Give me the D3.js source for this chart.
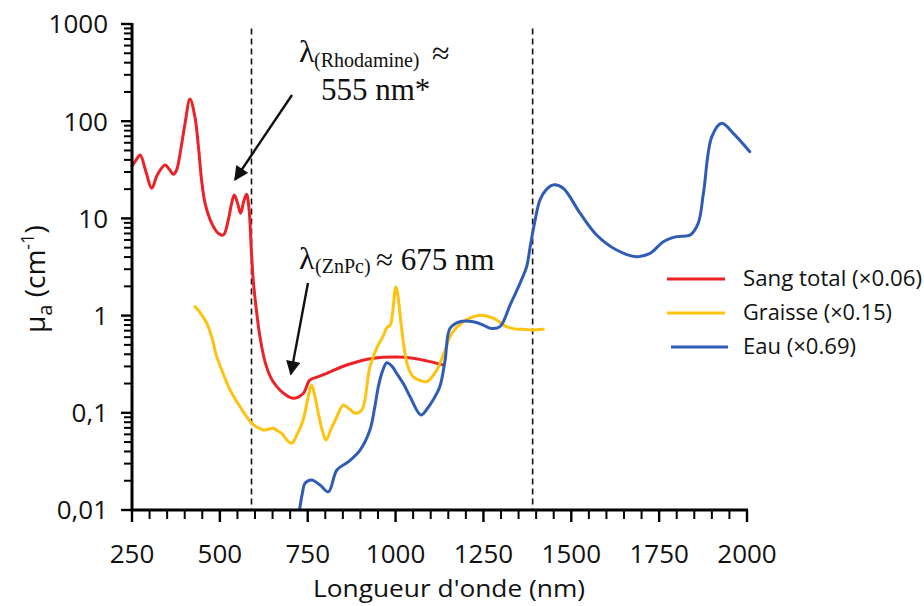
<!DOCTYPE html>
<html>
<head>
<meta charset="utf-8">
<script src="https://cdn.jsdelivr.net/npm/d3@7"></script>
<style>
  html, body { margin: 0; padding: 0; background: #fff; }
  #wrap { position: relative; width: 924px; height: 606px; }
  #wrap svg { position: absolute; left: 0; top: 0; display: block; }
</style>
</head>
<body>
<div id="wrap">
<svg id="chart" width="924" height="606"></svg>
<svg id="ticks" width="924" height="606"></svg>
</div>
<script>
// ---------- DATA ----------
const bloodW = [250,262,273,290,306,322,344,356,368,377,387,401,415,429,439,448,458,477,496,510,524,533,541,550,559,568,576,583,590,595,605,614,630,645,662,685,709,737,756,780,804,861,937,1003,1050,1098,1136];
const bloodV = [34.5,40,44.9,30,20.4,28,35.4,32,28.4,31.5,46.8,95,169,111,54.7,24.8,14.3,8.9,7.0,6.75,9.6,14,17.4,14.5,11.3,15,17.7,12.5,4.4,2.3,1.06,0.607,0.32,0.23,0.186,0.155,0.141,0.158,0.217,0.235,0.255,0.31,0.364,0.375,0.364,0.336,0.31];

const fatW = [429,446,463,477,491,510,529,557,591,610,624,640,652,665,676,690,704,720,737,752,761,770,780,792,802,818,833,851,868,885,904,927,946,965,975,985,1001,1017,1025,1035,1050,1070,1089,1117,1141,1160,1193,1240,1278,1316,1340,1363,1390,1420];
const fatV = [1.24,1.05,0.83,0.6,0.378,0.25,0.172,0.116,0.078,0.07,0.0666,0.068,0.0694,0.065,0.0615,0.053,0.0485,0.06,0.0844,0.15,0.193,0.15,0.099,0.065,0.0525,0.07,0.091,0.12,0.11,0.099,0.107,0.298,0.461,0.62,0.75,0.8,1.98,0.75,0.45,0.3,0.235,0.215,0.209,0.275,0.443,0.658,0.865,1.01,0.94,0.769,0.73,0.723,0.71,0.723];

const waterW = [727,735,742,761,785,809,833,865,899,927,940,951,963,975,990,1003,1022,1041,1072,1090,1107,1126,1141,1155,1183,1221,1250,1269,1297,1326,1354,1373,1383,1397,1411,1430,1449,1477,1525,1572,1629,1686,1724,1762,1800,1838,1861,1876,1900,1928,1961,2008];
const waterV = [0.0102,0.015,0.0188,0.0204,0.0181,0.0154,0.0258,0.0312,0.0414,0.0666,0.11,0.186,0.27,0.327,0.3,0.255,0.2,0.147,0.095,0.11,0.136,0.186,0.349,0.74,0.865,0.865,0.8,0.74,0.77,1.29,2.15,3.19,5.1,9.6,15.5,20,22.1,20.4,11.3,6.75,4.73,4.04,4.37,5.76,6.49,6.75,8.9,18.1,69.3,95,75,48.6];

const seriesNames = ["Sang total (\u00d70.06)", "Graisse (\u00d70.15)", "Eau (\u00d70.69)"];
const seriesColors = ["#ec2227", "#fec20f", "#2f5db5"];

const xMajorTicks = [250,500,750,1000,1250,1500,1750,2000];
const xTickLabels = ["250","500","750","1000","1250","1500","1750","2000"];
const yMajorTicks = [0.01,0.1,1,10,100,1000];
const yTickLabels = ["0,01","0,1","1","10","100","1000"];
const markerLines = [590, 1390];

// ---------- LAYOUT ----------
const svg = d3.select("#chart");
const X0 = 132, X1 = 747, Y0 = 510, Y1 = 24;
const FONT = "'Open Sans', sans-serif";

const x = d3.scaleLinear().domain([250, 2000]).range([X0, X1]);
const y = d3.scaleLog().domain([0.01, 1000]).range([Y0, Y1]);

svg.append("rect").attr("width", 924).attr("height", 606).attr("fill", "#fff");

svg.append("defs").append("marker")
  .attr("id", "arrowhead").attr("viewBox", "0 0 10 10")
  .attr("refX", 9).attr("refY", 5)
  .attr("markerWidth", 7).attr("markerHeight", 6).attr("markerUnits", "strokeWidth")
  .attr("orient", "auto")
  .append("path").attr("d", "M0,0 L10,5 L0,10 Z").attr("fill", "#111");

// dashed marker lines
svg.append("g").selectAll("line").data(markerLines).join("line")
  .attr("x1", d => x(d)).attr("x2", d => x(d))
  .attr("y1", y(900)).attr("y2", Y0)
  .attr("stroke", "#111").attr("stroke-width", 1.6)
  .attr("stroke-dasharray", "6,4");

// curves
const line = d3.line()
  .x(d => x(d[0])).y(d => y(d[1]))
  .curve(d3.curveCatmullRom.alpha(0.5));

const series = [
  d3.zip(bloodW, bloodV),
  d3.zip(fatW, fatV),
  d3.zip(waterW, waterV)
];

svg.append("g")
  .selectAll("path").data(series).join("path")
  .attr("d", d => line(d))
  .attr("fill", "none")
  .attr("stroke", (d, i) => seriesColors[i])
  .attr("stroke-width", 3)
  .attr("stroke-linejoin", "round")
  .attr("stroke-linecap", "round");

// axis lines
svg.append("path")
  .attr("d", `M${X0},${y(1000) - 1}V${Y0}H${x(2000) + 1}`)
  .attr("fill", "none").attr("stroke", "#000").attr("stroke-width", 3);

// ---------- TICKS (overlay svg, positions from the scales) ----------
const yMinor = [];
for (let e = -2; e < 3; e++) for (let m = 2; m <= 9; m++) yMinor.push(m * Math.pow(10, e));
const xMinor = d3.range(250, 2001, 50).filter(v => !xMajorTicks.includes(v));

const tsvg = d3.select("#ticks");
const tk = tsvg.append("g").attr("fill", "#000");
tk.append("g").selectAll("rect").data(xMinor).join("rect")
  .attr("x", d => x(d) - 1).attr("y", Y0).attr("width", 2).attr("height", 9);
tk.append("g").selectAll("rect").data(xMajorTicks).join("rect")
  .attr("x", d => x(d) - 1.2).attr("y", Y0).attr("width", 2.4).attr("height", 12);
tk.append("g").selectAll("rect").data(yMinor).join("rect")
  .attr("x", X0 - 8).attr("y", d => y(d) - 1).attr("width", 8).attr("height", 2);
tk.append("g").selectAll("rect").data(yMajorTicks).join("rect")
  .attr("x", X0 - 11).attr("y", d => y(d) - 1.2).attr("width", 11).attr("height", 2.4);

// tick labels
svg.append("g").selectAll("text").data(yMajorTicks).join("text")
  .attr("x", 108).attr("y", d => y(d)).attr("dy", "0.36em")
  .attr("text-anchor", "end")
  .style("font-family", FONT).style("font-size", "26px").attr("fill", "#111")
  .text((d, i) => yTickLabels[i]);

svg.append("g").selectAll("text").data(xMajorTicks).join("text")
  .attr("x", d => x(d)).attr("y", 563)
  .attr("text-anchor", "middle")
  .style("font-family", FONT).style("font-size", "26px").attr("fill", "#111")
  .text((d, i) => xTickLabels[i]);

// axis titles
svg.append("text")
  .attr("x", 449).attr("y", 597)
  .attr("text-anchor", "middle")
  .attr("textLength", 272).attr("lengthAdjust", "spacingAndGlyphs")
  .style("font-family", FONT).style("font-size", "24px").attr("fill", "#111")
  .text("Longueur d'onde (nm)");

const yt = svg.append("text")
  .attr("transform", "translate(45,333) rotate(-90)")
  .style("font-family", FONT).style("font-size", "28px").attr("fill", "#111");
yt.append("tspan").text("\u03bc");
yt.append("tspan").attr("dy", 7).style("font-size", "20px").text("a");
yt.append("tspan").attr("dy", -7).text(" (cm");
yt.append("tspan").attr("dy", -11).style("font-size", "18px").text("-1");
yt.append("tspan").attr("dy", 11).text(")");

// ---------- ANNOTATIONS ----------
const serif = "'Liberation Serif', 'Times New Roman', serif";

svg.append("line")
  .attr("x1", 292).attr("y1", 95)
  .attr("x2", x(543)).attr("y2", y(25))
  .attr("stroke", "#111").attr("stroke-width", 2.4)
  .attr("marker-end", "url(#arrowhead)");
svg.append("line")
  .attr("x1", 308).attr("y1", 283)
  .attr("x2", x(702)).attr("y2", y(0.25))
  .attr("stroke", "#111").attr("stroke-width", 2.4)
  .attr("marker-end", "url(#arrowhead)");

const a1 = svg.append("g").style("font-family", serif).attr("fill", "#111");
a1.append("text").attr("x", 299).attr("y", 62).style("font-size", "32px").text("\u03bb");
a1.append("text").attr("x", 314).attr("y", 67).style("font-size", "20px").text("(Rhodamine)");
a1.append("text").attr("x", 432).attr("y", 64).style("font-size", "32px").text("\u2248");
a1.append("text").attr("x", 321).attr("y", 100).style("font-size", "31px").text("555 nm*");

const a2 = svg.append("g").style("font-family", serif).attr("fill", "#111");
a2.append("text").attr("x", 299).attr("y", 269).style("font-size", "32px").text("\u03bb");
a2.append("text").attr("x", 315).attr("y", 273).style("font-size", "20px").text("(ZnPc)");
a2.append("text").attr("x", 376).attr("y", 270).style("font-size", "31px").text("\u2248 675 nm");

// ---------- LEGEND ----------
const legY = [279, 313, 347];
const legX1 = [667, 667, 671], legX2 = [725, 725, 728];
const legLen = [179, 149, 113];
const leg = svg.append("g");
seriesNames.forEach((name, i) => {
  leg.append("line")
    .attr("x1", legX1[i]).attr("x2", legX2[i])
    .attr("y1", legY[i]).attr("y2", legY[i])
    .attr("stroke", seriesColors[i]).attr("stroke-width", 3);
  leg.append("text")
    .attr("x", 743).attr("y", legY[i]).attr("dy", "0.35em")
    .attr("textLength", legLen[i]).attr("lengthAdjust", "spacingAndGlyphs")
    .style("font-family", FONT).style("font-size", "21px").attr("fill", "#111")
    .text(name);
});
</script>
</body>
</html>
